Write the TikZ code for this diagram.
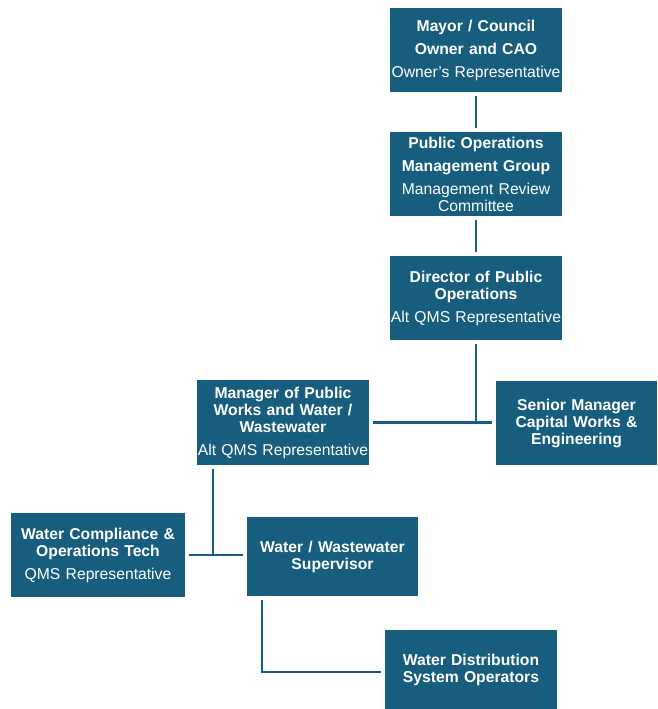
\documentclass[tikz,border=0pt]{standalone}
\usepackage{fontspec}
\setmainfont{Liberation Sans}
\usetikzlibrary{calc}
\usetikzlibrary{positioning}
\definecolor{orgblue}{RGB}{23,94,126}

\begin{document}
\begin{tikzpicture}[x=1pt,y=-1pt]
	\useasboundingbox (0,0) rectangle (657,709);
	\begin{scope}[every node/.style={rectangle, fill=orgblue, text=white, inner sep=0pt, outer sep=4pt,
	              align=center, font=\fontsize{15.7}{17}\selectfont}]
		\node[text width=172pt, minimum height=84pt] (mayor) at (476,50)
			{\textbf{Mayor / Council}\\[6pt]\textbf{Owner and CAO}\\[6pt]Owner's Representative};
		\node[text width=172pt, minimum height=84pt] (pomg) at (476,174)
			{\textbf{Public Operations}\\[6pt]\textbf{Management Group}\\[6pt]Management Review\\Committee};
		\node[text width=172pt, minimum height=84pt] (director) at (476,298)
			{\textbf{Director of Public}\\\textbf{Operations}\\[6pt]Alt QMS Representative};
		\node[text width=172pt, minimum height=85pt] (manager) at (283,422.5)
			{\textbf{Manager of Public}\\\textbf{Works and Water /}\\\textbf{Wastewater}\\[6pt]Alt QMS Representative};
		\node[text width=161pt, minimum height=84pt] (senior) at (576.5,423)
			{\textbf{Senior Manager}\\\textbf{Capital Works \&}\\\textbf{Engineering}};
		\node[text width=174pt, minimum height=84pt] (compliance) at (98,555)
			{\textbf{Water Compliance \&}\\\textbf{Operations Tech}\\[6pt]QMS Representative};
		\node[text width=171pt, minimum height=79pt] (supervisor) at (332.5,556.5)
			{\textbf{Water / Wastewater}\\\textbf{Supervisor}};
		\node[text width=172pt, minimum height=80pt] (operators) at (471,669.5)
			{\textbf{Water Distribution}\\\textbf{System Operators}};
	\end{scope}

	\coordinate (tap) at (213,555);
	\coordinate (elbow) at (262,672);
	\begin{scope}[line width=2.8pt, draw=orgblue]
		\draw (mayor) -- (pomg);
		\draw (pomg) -- (director);
		\draw (director.south) -- (director.south |- manager.east);
		\draw (manager.east) -- (manager.east -| senior.west);
		\draw (tap |- manager.south) -- (tap);
		\draw (compliance.east) -- (compliance.east -| supervisor.west);
		\draw (elbow |- supervisor.south) -- (elbow) -- (elbow -| operators.west);
	\end{scope}
\end{tikzpicture}
\end{document}
